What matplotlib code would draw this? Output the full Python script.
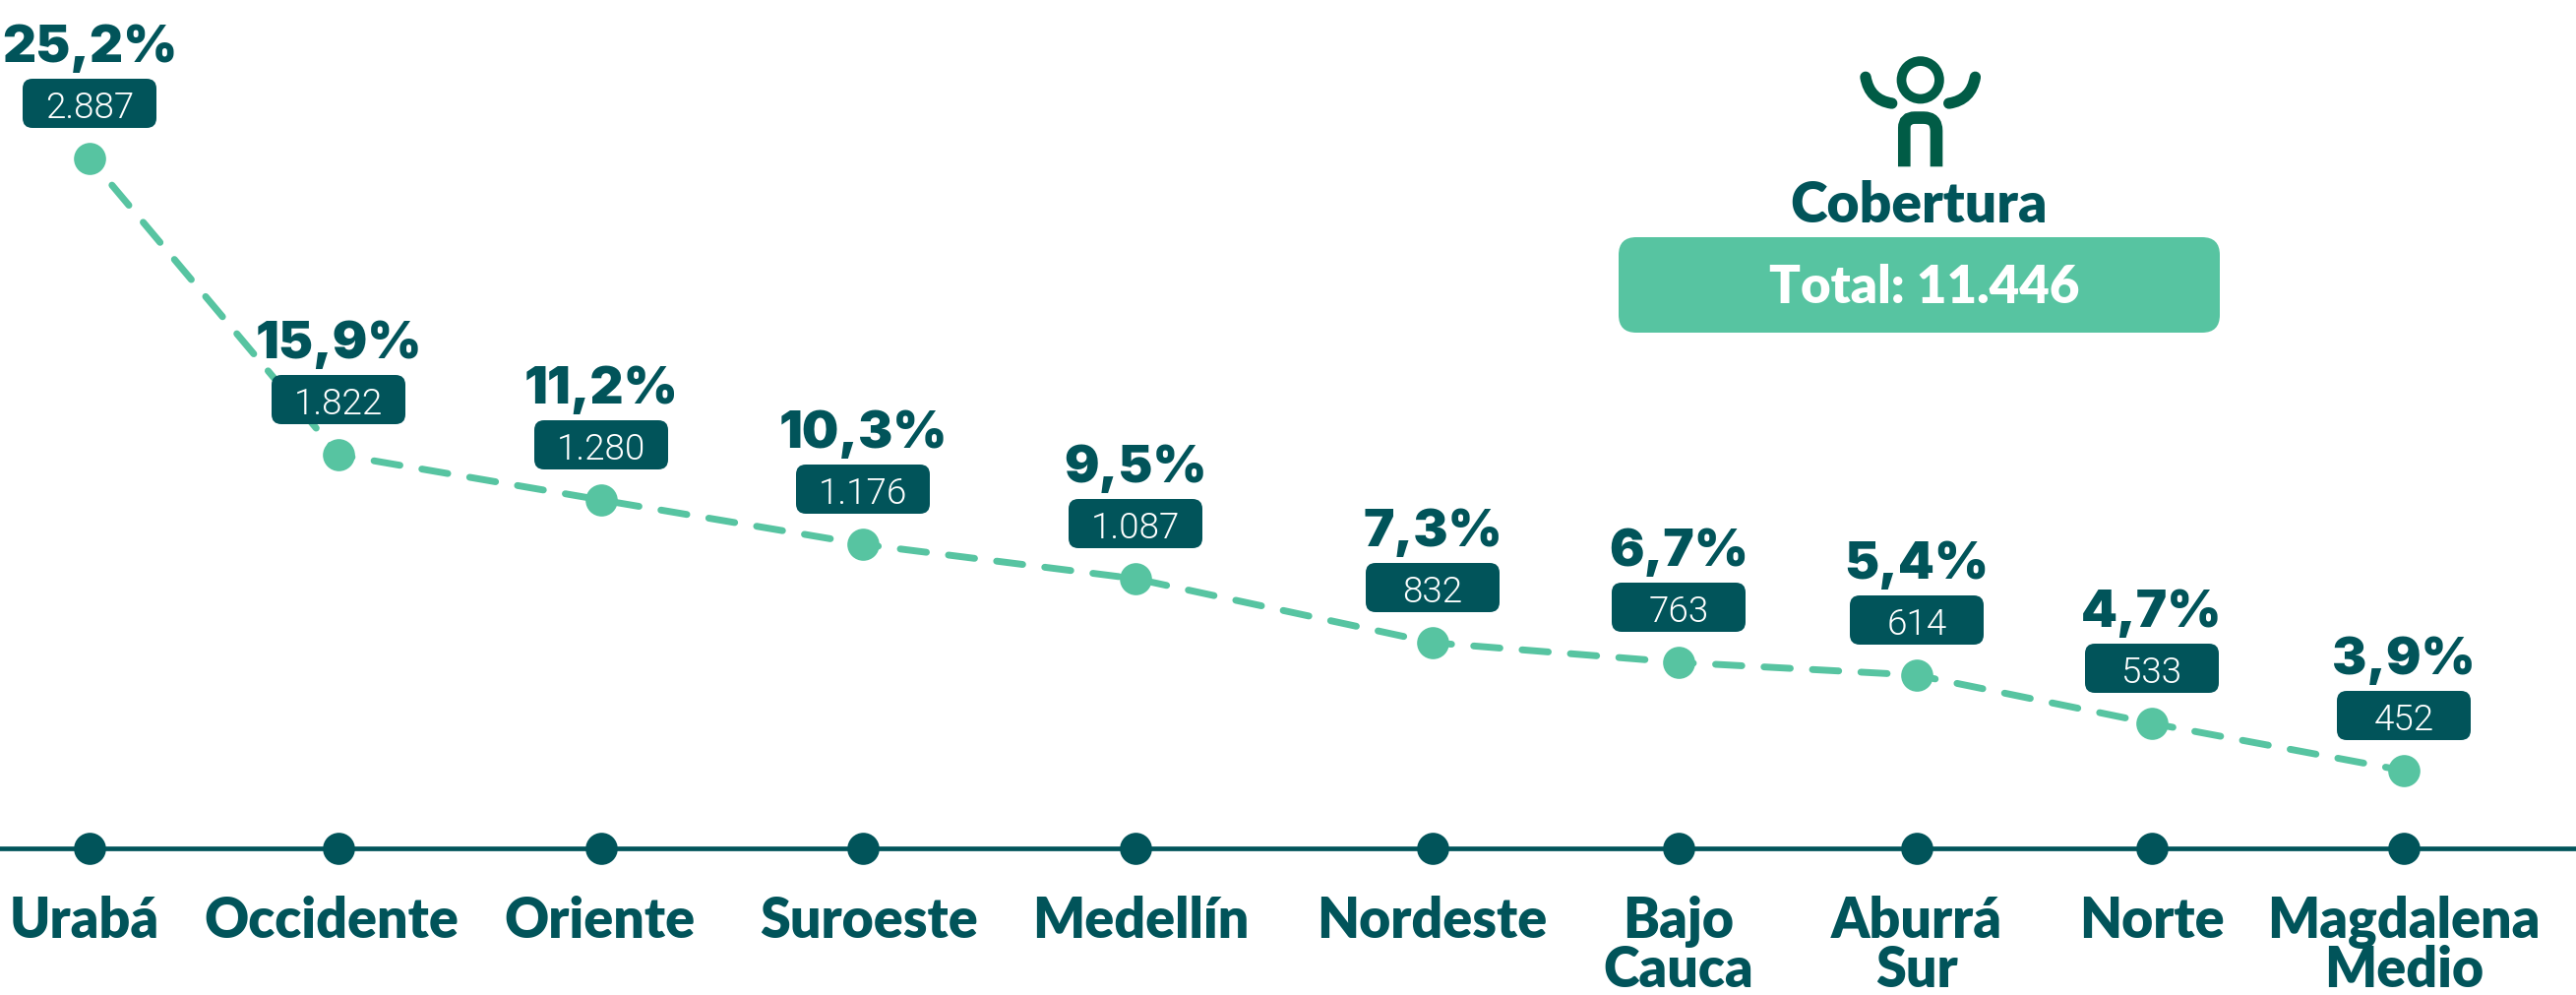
import matplotlib
matplotlib.use("Agg")
import matplotlib.pyplot as plt
from matplotlib.patches import FancyBboxPatch, PathPatch, Circle
from matplotlib.path import Path

# datos
regiones = ["Urabá", "Occidente", "Oriente", "Suroeste", "Medellín", "Nordeste",
            "Bajo\nCauca", "Aburrá\nSur", "Norte", "Magdalena\nMedio"]
porcentajes = ["25,2%", "15,9%", "11,2%", "10,3%", "9,5%", "7,3%", "6,7%", "5,4%", "4,7%", "3,9%"]
cantidades = ["2.887", "1.822", "1.280", "1.176", "1.087", "832", "763", "614", "533", "452"]
# altura de cada punto sobre el eje (la curva no es proporcional al porcentaje)
niveles = [701, 400, 354, 309, 274, 209, 189, 176, 127, 79]
# las regiones no estan igual de separadas en el original
centros_x = [91, 344, 611, 877, 1154, 1456, 1706, 1948, 2187, 2443]
total = "Total: 11.446"

VERDE = "#57C4A1"
TEAL = "#01545A"
LOGO = "#015C46"
W, H = 2618, 1011
BASE = 862


def py(v):
    # de fila de pixel a altura sobre el eje
    return BASE - v


fig = plt.figure(figsize=(W / 100, H / 100), dpi=100)
ax = fig.add_axes([0, 0, 1, 1])
ax.set_xlim(0, W)
ax.set_ylim(py(H), py(0))
ax.axis("off")

# eje de abajo
ax.axhline(0, color=TEAL, lw=3.4, zorder=1)
ax.plot(centros_x, [0] * len(centros_x), "o", color=TEAL, ms=23.5, mew=0, zorder=2)

# curva
ax.plot(centros_x, niveles, color=VERDE, lw=5.0, linestyle=(2.0, (3.85, 3.25)), dash_capstyle="round",
        dash_joinstyle="round", zorder=1)
ax.plot(centros_x, niveles, "o", color=VERDE, ms=23.5, mew=0, zorder=2)

for x, n, p, c in zip(centros_x, niveles, porcentajes, cantidades):
    cy = n + 56
    ax.add_patch(FancyBboxPatch((x - 58, cy - 15), 116, 30,
                                boxstyle="round,pad=10,rounding_size=10",
                                fc=TEAL, ec="none", zorder=3))
    ax.text(x, cy - 1, c, color="white", fontsize=26.5, family="Roboto", weight=300,
            ha="center", va="center_baseline", zorder=4)
    ax.text(x, cy + 42, p, color=TEAL, fontsize=38, family="Inter", weight=900,
            ha="center", va="baseline", zorder=4)

# nombres de region
ajuste_x = [-5, -7, -2, 6, 5, -1, 0, 0, 0, 0]
for x, r, dx in zip(centros_x, regiones, ajuste_x):
    for i, linea in enumerate(r.split("\n")):
        ax.text(x + dx, py(953 + 50 * i), linea, color=TEAL, fontsize=40, family="Lato", weight=800,
                ha="center", va="baseline")

# recuadro total
ax.add_patch(FancyBboxPatch((1663, py(320)), 575, 61,
                            boxstyle="round,pad=18,rounding_size=18",
                            fc=VERDE, ec="none", zorder=3))
ax.text(1956, py(308), total, color="white", fontsize=38, family="Lato", weight=800,
        ha="center", va="baseline", zorder=4)
ax.text(1950, py(226), "Cobertura", color=TEAL, fontsize=41, family="Lato", weight=800,
        ha="center", va="baseline")

# icono
ax.add_patch(Circle((1951.7, py(81.3)), 19.2, fc="none", ec=LOGO, lw=7))
brazo = [(1896, 78.3), (1900, 101.7), (1922.7, 105)]
for lado in (1, -1):
    pts = [(1951.7 + lado * (a - 1951.7), py(b)) for a, b in brazo]
    ax.add_patch(PathPatch(Path(pts, [Path.MOVETO, Path.CURVE3, Path.CURVE3]), fc="none", ec=LOGO,
                           lw=8.2, capstyle="round"))
cuerpo = [(1935.3, 169.3), (1935.3, 130), (1935.3, 119.6), (1946, 119.6), (1955, 119.6), (1968, 119.6),
          (1968, 133), (1968, 169.3)]
codes = [Path.MOVETO, Path.LINETO, Path.CURVE3, Path.CURVE3, Path.LINETO, Path.CURVE3, Path.CURVE3, Path.LINETO]
ax.add_patch(PathPatch(Path([(a, py(b)) for a, b in cuerpo], codes), fc="none", ec=LOGO, lw=9.1,
                       capstyle="butt"))

fig.savefig("out.png", dpi=100, facecolor="white")
